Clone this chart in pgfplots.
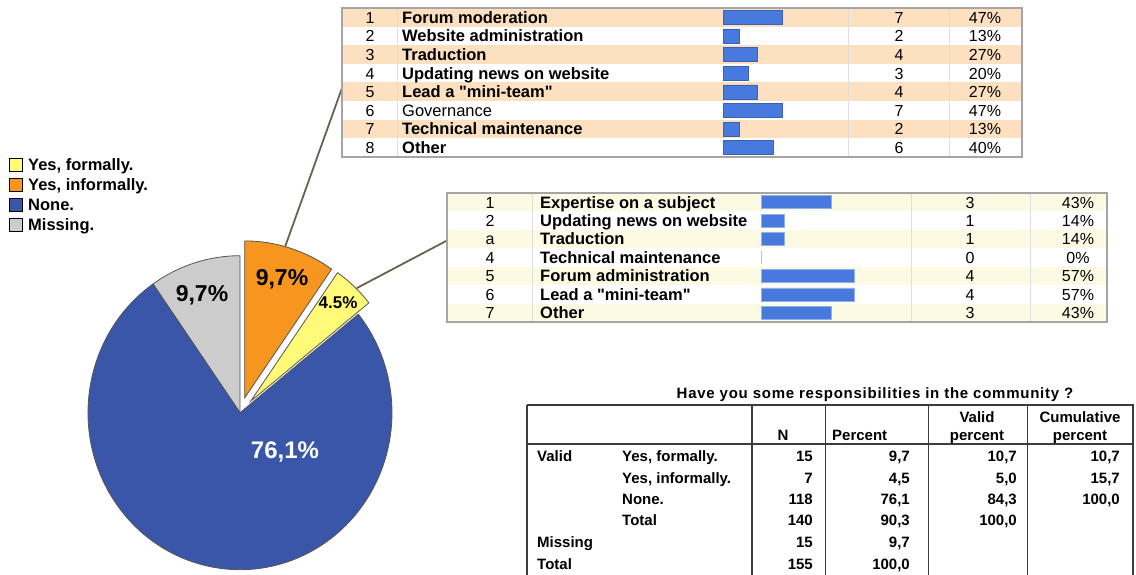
\documentclass[border=0pt]{standalone}
\usepackage{pgfplots}
\pgfplotsset{compat=1.18}
\usepackage{pgfplotstable}
\usepackage{fontspec}
\setmainfont{Liberation Sans}[Ligatures=TeXOff]
\newfontfamily\titlefont{Liberation Sans}[Ligatures=TeXOff, LetterSpace=5]

\definecolor{cYel}{RGB}{255,250,120}
\definecolor{cOra}{RGB}{247,150,30}
\definecolor{cBlu}{RGB}{58,86,168}
\definecolor{cGry}{RGB}{204,204,204}
\definecolor{pieedge}{RGB}{85,85,85}
\definecolor{barblue}{RGB}{72,122,222}
\definecolor{peach}{RGB}{252,224,192}
\definecolor{cream}{RGB}{253,250,228}
\definecolor{leader}{RGB}{100,100,78}
\definecolor{tborder}{RGB}{165,165,165}
\definecolor{tsep}{RGB}{222,222,222}
\definecolor{sline}{RGB}{60,60,60}

\pgfplotstableread{
slice pct
Missing 9.7
None 76.1
Formally 4.5
Informally 9.7
}\piedata

\pgfplotstableread[col sep=semicolon]{
row;label;n;pct;bf
1;Forum moderation;7;47;1
2;Website administration;2;13;1
3;Traduction;4;27;1
4;Updating news on website;3;20;1
5;Lead a "mini-team";4;27;1
6;Governance;7;47;0
7;Technical maintenance;2;13;1
8;Other;6;40;1
}\tabA

\pgfplotstableread[col sep=semicolon]{
row;num;label;n;pct
1;1;Expertise on a subject;3;43
2;2;Updating news on website;1;14
3;a;Traduction;1;14
4;4;Technical maintenance;0;0
5;5;Forum administration;4;57
6;6;Lead a "mini-team";4;57
7;7;Other;3;43
}\tabB

\tikzset{
  cell/.style={inner sep=0pt, text height=11.8pt, text depth=0pt, font=\fontsize{16}{18}\selectfont},
  scell/.style={inner sep=0pt, text height=10.7pt, text depth=0pt, font=\fontsize{15}{17}\selectfont\bfseries},
}

\begin{document}
\begin{tikzpicture}

% ---------- pie angles from data ----------
\pgfplotstablegetelem{0}{pct}\of\piedata \pgfmathsetmacro\aB{90+3.6*\pgfplotsretval}
\pgfplotstablegetelem{1}{pct}\of\piedata \pgfmathsetmacro\aC{\aB+3.6*\pgfplotsretval}
\pgfplotstablegetelem{2}{pct}\of\piedata \pgfmathsetmacro\aD{\aC+3.6*\pgfplotsretval}
\pgfplotstablegetelem{3}{pct}\of\piedata \pgfmathsetmacro\aE{\aD+3.6*\pgfplotsretval}
\pgfmathsetmacro\mD{(\aC+\aD)/2}
\pgfmathsetmacro\mE{(\aD+\aE)/2}

\begin{axis}[at={(88pt,5.3pt)}, anchor=south west, scale only axis,
  width=304pt, height=314pt, xmin=-1, xmax=1, ymin=-1, ymax=1,
  hide axis, clip=false]
  \filldraw[fill=cGry, draw=pieedge, line width=0.8pt]
    (axis cs:0,0) -- ++(90:152pt and 157pt)
    arc[start angle=90, end angle=\aB, x radius=152pt, y radius=157pt] -- cycle;
  \filldraw[fill=cBlu, draw=pieedge, line width=0.8pt]
    (axis cs:0,0) -- ++(\aB:152pt and 157pt)
    arc[start angle=\aB, end angle=\aC, x radius=152pt, y radius=157pt] -- cycle;
  \filldraw[fill=cYel, draw=pieedge, line width=0.8pt]
    ([shift={(\mD:15.5pt)}]axis cs:0,0) -- ++(\aC:152pt and 157pt)
    arc[start angle=\aC, end angle=\aD, x radius=152pt, y radius=157pt] -- cycle;
  \filldraw[fill=cOra, draw=pieedge, line width=0.8pt]
    ([shift={(\mE:15.5pt)}]axis cs:0,0) -- ++(\aD:152pt and 157pt)
    arc[start angle=\aD, end angle=\aE, x radius=152pt, y radius=157pt] -- cycle;
\end{axis}

\begin{scope}[x=1pt,y=1pt]
% pie labels
\node[font=\fontsize{23}{25}\selectfont\bfseries] at (202,575-295) {9,7\%};
\node[font=\fontsize{23}{25}\selectfont\bfseries] at (282,575-279) {9,7\%};
\node[font=\fontsize{17}{19}\selectfont\bfseries] at (338,575-303) {4.5\%};
\node[font=\fontsize{24}{26}\selectfont\bfseries, text=white] at (285,575-452) {76,1\%};

% legend
\foreach \c/\t [count=\k from 0] in {cYel/{Yes, formally.},cOra/{Yes, informally.},cBlu/{None.},cGry/{Missing.}} {
  \filldraw[fill=\c, draw=black, line width=0.9pt] (9,575-158.5-20*\k) rectangle ++(13,-13);
  \node[anchor=west, inner sep=0pt, text height=11.8pt, text depth=0pt,
        font=\fontsize{16.5}{18}\selectfont\bfseries] at (28,575-165-20*\k) {\t};
}

% leader lines
\draw[leader, line width=1.8pt] (285,575-247) -- (342,575-88);
\draw[leader, line width=1.8pt] (357,575-288) -- (448,575-240);

% ---------- table 1 ----------
\fill[white] (342,567) rectangle (1022,418);
\foreach \i in {0,2,4,6} \fill[peach] (342,{567-18.625*\i}) rectangle (1022,{567-18.625*(\i+1)});
\foreach \x in {397,848,949} \draw[tsep, line width=1pt] (\x,567) -- (\x,418);
\draw[tborder, line width=1.5pt] (342,567) rectangle (1022,418);
\foreach \i in {0,...,7}{
  \pgfmathsetmacro\yy{567-18.625*(\i+0.5)}
  \pgfplotstablegetelem{\i}{row}\of\tabA \let\rr\pgfplotsretval
  \pgfplotstablegetelem{\i}{label}\of\tabA \let\lab\pgfplotsretval
  \pgfplotstablegetelem{\i}{n}\of\tabA \let\nn\pgfplotsretval
  \pgfplotstablegetelem{\i}{pct}\of\tabA \let\pp\pgfplotsretval
  \pgfplotstablegetelem{\i}{bf}\of\tabA \let\bb\pgfplotsretval
  \node[cell] at (370,\yy) {\rr};
  \node[cell, anchor=west, font=\fontsize{16.5}{18}\selectfont] at (402,\yy) {\ifnum\bb=1 \bfseries\fi\lab};
  \node[cell] at (899,\yy) {\nn};
  \node[cell] at (985,\yy) {\pp\%};
}

% ---------- table 2 ----------
\fill[white] (447,382) rectangle (1107,253);
\foreach \i in {0,2,4,6} \fill[cream] (447,{382-18.43*\i}) rectangle (1107,{382-18.43*(\i+1)});
\foreach \x in {532.7,911,1030} \draw[tsep, line width=1pt] (\x,382) -- (\x,253);
\draw[tborder, line width=1.5pt] (447,382) rectangle (1107,253);
\foreach \i in {0,...,6}{
  \pgfmathsetmacro\yy{382-18.43*(\i+0.5)}
  \pgfplotstablegetelem{\i}{num}\of\tabB \let\rr\pgfplotsretval
  \pgfplotstablegetelem{\i}{label}\of\tabB \let\lab\pgfplotsretval
  \pgfplotstablegetelem{\i}{n}\of\tabB \let\nn\pgfplotsretval
  \pgfplotstablegetelem{\i}{pct}\of\tabB \let\pp\pgfplotsretval
  \node[cell] at (490,\yy) {\rr};
  \node[cell, anchor=west, font=\fontsize{16.5}{18}\selectfont\bfseries] at (540,\yy) {\lab};
  \node[cell] at (970,\yy) {\nn};
  \node[cell] at (1078,\yy) {\pp\%};
}

% ---------- statistics table ----------
\node[inner sep=0pt, text height=10.7pt, text depth=0pt, font=\titlefont\fontsize{15}{17}\selectfont\bfseries] at (875,575-393) {Have you some responsibilities in the community ?};
\draw[sline, line width=1.5pt] (527,170) -- (1133,170) -- (1133,-5) (527,-5) -- (527,170);
\draw[sline, line width=1.5pt] (752,170) -- (752,-5);
\draw[sline, line width=1.5pt] (527,131) -- (1133,131);
\foreach \x in {825,928,1027} \draw[sline, line width=1pt] (\x,170) -- (\x,-5);
\node[scell] at (783,575-435) {N};
\node[scell, anchor=west] at (832,575-435) {Percent};
\node[scell] at (977,575-417) {Valid};
\node[scell] at (977,575-435) {percent};
\node[scell] at (1080,575-417) {Cumulative};
\node[scell] at (1080,575-435) {percent};
\node[scell, anchor=west] at (537,575-456) {Valid};
\node[scell, anchor=west] at (622,575-456) {Yes, formally.};
\node[scell, anchor=west] at (622,575-478) {Yes, informally.};
\node[scell, anchor=west] at (622,575-499) {None.};
\node[scell, anchor=west] at (622,575-520) {Total};
\node[scell, anchor=west] at (537,575-542) {Missing};
\node[scell, anchor=west] at (537,575-564) {Total};
\foreach \y/\n/\p/\v/\c in {456/15/{9,7}/{10,7}/{10,7}, 478/7/{4,5}/{5,0}/{15,7}, 499/118/{76,1}/{84,3}/{100,0}, 520/140/{90,3}/{100,0}/{}, 542/15/{9,7}/{}/{}, 564/155/{100,0}/{}/{}} {
  \node[scell, anchor=east] at (813,575-\y) {\n};
  \node[scell, anchor=east] at (910,575-\y) {\p};
  \node[scell, anchor=east] at (1017,575-\y) {\v};
  \node[scell, anchor=east] at (1120,575-\y) {\c};
}
\end{scope}

% ---------- bar axes (tables) ----------
\begin{axis}[at={(723pt,418pt)}, anchor=south west, scale only axis,
  width=125pt, height=149pt, xmin=0, xmax=100, ymin=0.5, ymax=8.5,
  y dir=reverse, hide axis, clip=false, xbar, bar width=14pt]
  \addplot[fill=barblue, draw=barblue!80!black, line width=0.4pt] table[x=pct, y=row] {\tabA};
\end{axis}
\begin{axis}[at={(761pt,253pt)}, anchor=south west, scale only axis,
  width=150pt, height=129pt, xmin=0, xmax=91.5, ymin=0.5, ymax=7.5,
  y dir=reverse, hide axis, clip=false, xbar, bar width=13pt]
  \addplot[fill=barblue, draw=barblue!60, line width=0.6pt] table[x=pct, y=row] {\tabB};
\end{axis}

\pgfresetboundingbox
\path (0,0) rectangle (1136pt,575pt);
\end{tikzpicture}
\end{document}
